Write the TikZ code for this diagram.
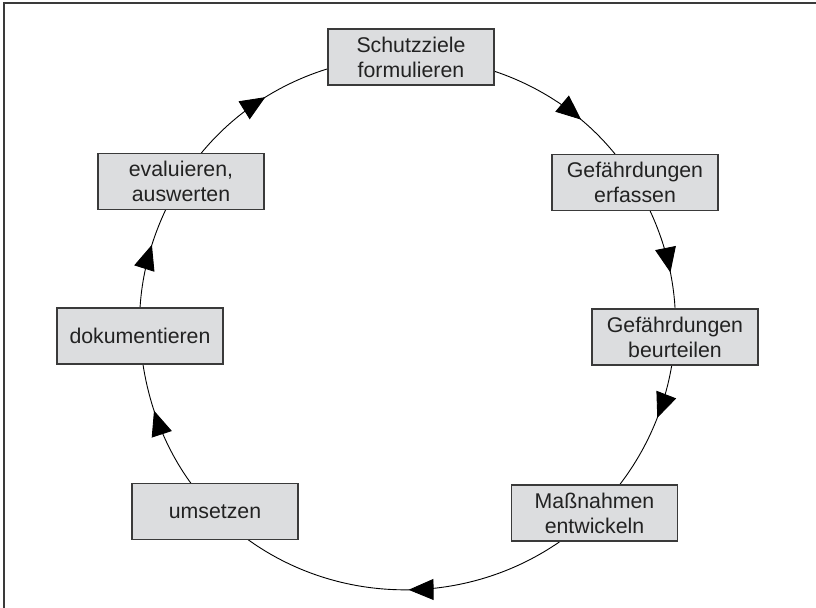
\documentclass[tikz,border=0pt]{standalone}
\usepackage{fontspec}
\setmainfont{Liberation Sans}
\usetikzlibrary{arrows.meta,decorations.markings,backgrounds}
\definecolor{boxfill}{HTML}{DCDDDF}
\definecolor{boxline}{HTML}{3A3A3A}
\definecolor{txt}{HTML}{222222}
\definecolor{framecol}{HTML}{3A3A3A}
\begin{document}
\begin{tikzpicture}[x=1bp,y=1bp,
  box/.style={draw=boxline,fill=boxfill,line width=1.3bp,minimum width=166bp,
    minimum height=56bp,inner sep=0pt,align=center,
    font=\fontsize{21.3bp}{25bp}\selectfont,text=txt},
  cyc/.style={line width=0.9bp,draw=black,postaction={decorate},
    decoration={markings,mark=at position #1 with
      {\arrow[fill=black!90]{Triangle[length=25bp,width=21bp]}}}},
  framestyle/.style={draw=framecol,line width=1.3bp}]
\useasboundingbox (0,0) rectangle (816,608);
% frame (top and left edges)
\coordinate (fl) at (4,0);
\coordinate (ftl) at (4,605);
\coordinate (ftr) at (816,605);
\draw[framestyle] (fl) -- (ftl) -- (ftr);
% boxes
\node[box] (top)  at (411,551)   {Schutzziele\\formulieren};
\node[box] (erf)  at (635,425.5) {Gefährdungen\\erfassen};
\node[box] (beur) at (675,271)   {Gefährdungen\\beurteilen};
\node[box] (mass) at (594.5,95)  {Maßnahmen\\entwickeln};
\node[box] (ums)  at (215,96.5)  {umsetzen};
\node[box] (dok)  at (140,272)   {dokumentieren};
\node[box] (eval) at (181,426.5) {evaluieren,\\auswerten};
% cycle connectors behind the boxes
\begin{pgfonlayer}{background}
\draw[cyc=0.69] (top.center)  to[out=-1,   in=121.1, looseness=0.91] (erf.center);
\draw[cyc=0.60] (erf.center)  to[out=-58.9,in=86.5,  looseness=0.87] (beur.center);
\draw[cyc=0.42] (beur.center) to[out=-93.5,in=44.3,  looseness=0.88] (mass.center);
\draw[cyc=0.49] (mass.center) to[out=-135.7,in=-45.1,looseness=0.99] (ums.center);
\draw[cyc=0.61] (ums.center)  to[out=134.9,in=-86.7, looseness=0.88] (dok.center);
\draw[cyc=0.57] (dok.center)  to[out=93.3, in=-121.6,looseness=0.87] (eval.center);
\draw[cyc=0.44] (eval.center) to[out=58.4, in=179.0, looseness=0.91] (top.center);
\end{pgfonlayer}
\end{tikzpicture}
\end{document}
